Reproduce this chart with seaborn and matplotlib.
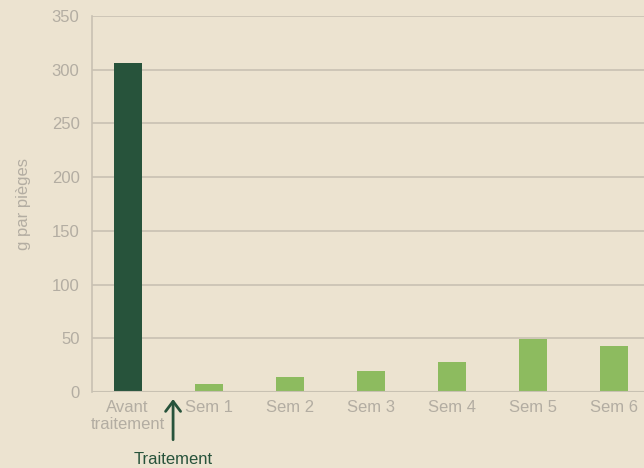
import matplotlib
matplotlib.use("Agg")
import matplotlib.pyplot as plt
import seaborn as sns
import pandas as pd

categories = ["Avant\ntraitement", "Sem 1", "Sem 2", "Sem 3", "Sem 4", "Sem 5", "Sem 6"]
values = [306, 7, 14, 20, 28, 49, 43]
bar_colors = ["#27533b"] + ["#8dbb5f"] * 6
y_ticks = [0, 50, 100, 150, 200, 250, 300, 350]

BG = "#ece3d0"
GRID = "#c8c1b2"
TXT = "#b3ada2"
DARK = "#27533b"
FS = 12

sns.set_theme(style="white")
plt.rcParams["font.family"] = ["Liberation Sans", "DejaVu Sans"]

df = pd.DataFrame({"cat": categories, "val": values})

fig = plt.figure(figsize=(6.44, 4.68), dpi=100, facecolor=BG)
ax = fig.add_axes([0.1429, 0.1624, 0.8571, 0.8034], facecolor=BG)

sns.barplot(data=df, x="cat", y="val", hue="cat", palette=bar_colors,
            legend=False, width=0.345, saturation=1, linewidth=0, ax=ax, zorder=2)

ax.set_ylim(0, 350)
ax.set_xlim(-0.44, 6.37)
ax.set_yticks(y_ticks)
ax.yaxis.grid(True, color=GRID, linewidth=1.2, zorder=0)
ax.set_axisbelow(True)
ax.axhline(0, color=GRID, linewidth=1.5, zorder=3)

for s in ["top", "right", "bottom"]:
    ax.spines[s].set_visible(False)
ax.spines["left"].set_color(GRID)
ax.spines["left"].set_linewidth(1.2)

ax.tick_params(axis="both", length=0, labelsize=FS, labelcolor=TXT, pad=9)
ax.tick_params(axis="x", pad=6)
for lbl in ax.get_xticklabels():
    lbl.set_linespacing(1.1)
ax.set_xlabel("")
ax.set_ylabel("g par pièges", color=TXT, fontsize=FS, labelpad=15)

ax.annotate("", xy=(0.56, -4), xytext=(0.56, -47), annotation_clip=False,
            arrowprops=dict(arrowstyle="->,head_length=0.6,head_width=0.45",
                            color=DARK, lw=2))
ax.text(0.56, -63, "Traitement", color=DARK, fontsize=FS,
        ha="center", va="center", clip_on=False)

fig.savefig("out.png", dpi=100, facecolor=BG)
